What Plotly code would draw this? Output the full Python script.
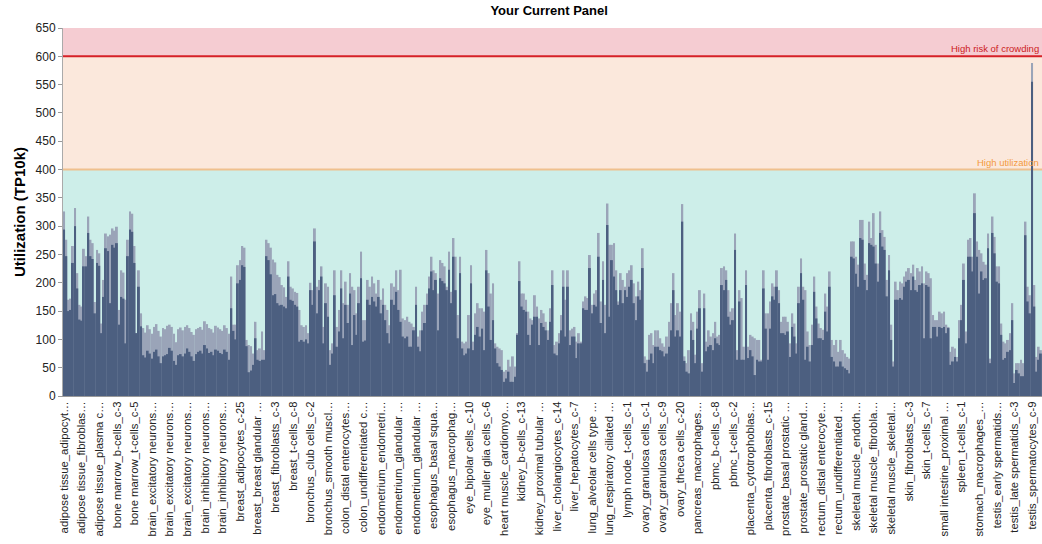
import plotly.graph_objects as go

# utilization per cluster (TP10k)
total_a = [326,276,170,172,265,332,217,161, 158,260,247,317,276,270,166,258,
           252,128,205,287,282,285,296,292, 299,152,222,218,170,276,326,322,
           265,111,222,146,
           120,112,125,118,110,122,127,115,105,120,118,124,126,122,110,95,118,121,116,122,
           125,120,113,108,118,120,122,117,132,127,120,118,112,124,121,118,115,125,120,110,
           211,126,126,231,240,265,262,99,90,88,75,131,81,84,114,81,276,270,262,241,
           236,214,210,196,192,175,238,193,190,184,182,152,125,122]
base_a = [294,247,150,152,235,300,190,135, 133,229,229,288,247,242,146,235,
          230,111,175,261,256,164,267,262, 270,126,175,172,93,247,294,290,
          235,111,193,123,
          72,68,80,75,66,78,82,70,58,70,72,74,85,80,62,55,72,74,70,75,
          84,78,70,62,74,78,80,75,90,84,76,78,72,82,80,76,74,82,78,64,
          155,115,100,199,205,231,228,88,42,45,55,102,64,62,64,64,247,240,215,178,
          180,164,160,161,158,155,211,170,168,161,158,96,99,96]

total_b = [125,111,200,187,296,193,205,229,122,199, 193,81,93,222,122,152,222,164,202,161,
           217,193,187,146,193,255,134,134,205,193, 211,199,181,205,170,190,161,152,125,199,
           193,222,187,223,137,134,140,131,128,122, 193,105,116,149,161,181,211,246,222,217,
           181,240,235,229,193,255,184,279,246,143, 246,96,93,96,143,231,96,146,164,155,
           155,149,258,217,181,199,93,87,84,81, 43,46,64,52,70,52,111,238,181,181,
           170,149,137,134,178,158,137,152,146]
base_b = [100,93,187,161,273,146,187,211,93,164, 140,55,75,178,87,114,190,102,161,129,
          181,90,143,108,164,208,96,98,170,161, 175,167,158,175,146,161,134,111,93,170,
          161,184,152,131,105,102,105,87,87,116, 161,87,79,116,129,161,190,220,187,205,
          116,208,203,199,187,223,164,246,187,102, 217,84,72,75,84,199,81,108,122,105,
          119,81,222,158,99,134,84,58,52,46, 25,31,43,25,25,34,108,203,158,152,
          149,108,90,126,140,140,90,129,122]

total_c = [131,116,155,222,90,96,111,143,222,170, 222,116,119,122,96,111,96,167,176,173,
           249,161,181,187,288,167,238,161,340,267, 267,270,222,167,217,205,193,217,222,231,
           199,176,202,187,261,70,64,108,111,90, 116,116,102,93,87,105,131,164,217,143,
           164,149,339,70,58,81,146,131,73,149, 187,58,181,96,116,105,111,131,105,108,
           226,229,222,187,149,155,287,81,187,173, 87,222,87,108,105,102,99,99,64,222,
           146,146,167,199,193,222,187,131,140]
base_c = [116,99,131,196,75,72,93,116,193,105, 193,90,105,105,67,93,93,155,152,152,
          226,146,161,158,246,129,205,111,302,140, 240,211,187,161,187,164,187,175,193,205,
          164,134,176,170,226,58,43,64,75,58, 87,87,81,79,70,75,87,116,187,105,
          116,105,308,62,43,40,116,99,58,119, 155,43,155,79,87,90,81,102,93,90,
          196,187,205,140,126,134,258,64,167,64, 64,196,67,81,70,37,64,61,61,190,
          119,64,119,176,170,193,164,111,111]

total_d = [140,131,93,146,128,93,193,243,193,187, 114,90,126,211,158,128,120,117,181,158,
           220,99,90,99,78,99,81,75,69,66, 273,273,246,232,311,311,234,214,308,279,
           323,267,234,326,293,281,205,249,126,61, 202,187,202,199,211,220,226,217,232,205,
           226,220,229,199,220,217,208,143,134,134, 149,146,149,126,122,78,87,84,69,134,
           161,234,114,276,279,246,358,273,258,252, 237,232,287,66,317,281,229,229,128,96,
           93,99,111,164,40,58,58,64,58,308, 193,178,588,196,69,87,81]
base_d = [108,114,69,122,105,75,164,217,170,64, 87,61,90,184,137,102,102,99,149,114,
          193,69,61,52,52,61,52,49,46,40, 246,243,216,193,279,276,205,187,270,267,
          264,234,202,288,264,258,176,222,99,52, 170,170,173,170,193,202,205,187,211,187,
          184,196,199,102,196,193,102,122,122,105, 122,120,122,111,120,55,61,69,61,102,
          134,205,93,246,246,220,323,246,181,220, 205,208,261,58,288,252,202,199,108,64,
          67,78,81,134,23,46,40,35,35,284, 167,146,555,158,43,64,75]

total = total_a + total_b + total_c + total_d
base = base_a + base_b + base_c + base_d

# one label shown for every 8th cluster
labels = [
    "adipose tissue_adipocyt…", "adipose tissue_fibroblas…", "adipose tissue_plasma c…",
    "bone marrow_b-cells_c-3", "bone marrow_t-cells_c-5",
    "brain_excitatory neurons…", "brain_excitatory neurons…", "brain_excitatory neurons…",
    "brain_inhibitory neurons…", "brain_inhibitory neurons…",
    "breast_adipocytes_c-25", "breast_breast glandular …", "breast_fibroblasts_c-3",
    "breast_t-cells_c-8", "bronchus_club cells_c-2", "bronchus_smooth muscl…",
    "colon_distal enterocytes…", "colon_undifferentiated c…", "endometrium_endometri…",
    "endometrium_glandular …", "endometrium_glandular …", "esophagus_basal squa…",
    "esophagus_macrophag…", "eye_bipolar cells_c-10", "eye_muller glia cells_c-6",
    "heart muscle_cardiomyo…", "kidney_b-cells_c-13", "kidney_proximal tubular …",
    "liver_cholangiocytes_c-14", "liver_hepatocytes_c-7", "lung_alveolar cells type …",
    "lung_respiratory ciliated …", "lymph node_t-cells_c-1", "ovary_granulosa cells_c-1",
    "ovary_granulosa cells_c-9", "ovary_theca cells_c-20", "pancreas_macrophages…",
    "pbmc_b-cells_c-8", "pbmc_t-cells_c-2", "placenta_cytotrophoblas…",
    "placenta_fibroblasts_c-15", "prostate_basal prostatic …", "prostate_prostatic gland…",
    "rectum_distal enterocyte…", "rectum_undifferentiated …", "skeletal muscle_endoth…",
    "skeletal muscle_fibrobla…", "skeletal muscle_skeletal…", "skin_fibroblasts_c-3",
    "skin_t-cells_c-7", "small intestine_proximal …", "spleen_t-cells_c-1",
    "stomach_macrophages_…", "testis_early spermatids…", "testis_late spermatids_c-3",
    "testis_spermatocytes_c-9",
]
label_step = 8

thresholds = [400, 600]
threshold_names = ["High utilization", "High risk of crowding"]

FONT = "Liberation Sans, Arial, sans-serif"
x = list(range(len(total)))

fig = go.Figure()
fig.add_trace(go.Bar(x=x, y=total, marker_color="#9aa4b8", marker_line_width=0,
                     showlegend=False, hoverinfo="y"))
fig.add_trace(go.Bar(x=x, y=base, marker_color="#4c5f80", marker_line_width=0,
                     showlegend=False, hoverinfo="y"))

# background bands
bands = [(0, 400, "#cdeee9"), (400, 600, "#fbe8dc"), (600, 650, "#f5ccd2")]
for y0, y1, col in bands:
    fig.add_shape(type="rect", xref="paper", yref="y", x0=0, x1=1, y0=y0, y1=y1,
                  fillcolor=col, line_width=0, layer="below")

fig.add_shape(type="line", xref="paper", yref="y", x0=0, x1=1, y0=thresholds[0], y1=thresholds[0],
              line=dict(color="#efc08e", width=2), layer="below")
fig.add_shape(type="line", xref="paper", yref="y", x0=0, x1=1, y0=thresholds[1], y1=thresholds[1],
              line=dict(color="#d62027", width=2))

fig.add_annotation(x=0.999, xref="paper", y=thresholds[0], yref="y", text=threshold_names[0],
                   showarrow=False, xanchor="right", yanchor="bottom",
                   font=dict(family=FONT, size=9.5, color="#f39a3c"))
fig.add_annotation(x=0.999, xref="paper", y=thresholds[1], yref="y", text=threshold_names[1],
                   showarrow=False, xanchor="right", yanchor="bottom",
                   font=dict(family=FONT, size=9.5, color="#cc1b22"))

fig.update_layout(
    width=1042, height=544,
    margin=dict(l=63, r=0, t=28, b=148, autoexpand=False),
    barmode="overlay", bargap=0.15,
    plot_bgcolor="white", paper_bgcolor="white",
    title=dict(text="<b>Your Current Panel</b>", x=0.527, xanchor="center", y=0.99, yanchor="top",
               font=dict(family=FONT, size=13, color="#000")),
    font=dict(family=FONT, color="#222"),
)
fig.update_xaxes(
    range=[-0.5, len(total) - 0.5],
    tickmode="array",
    tickvals=[i * label_step for i in range(len(labels))],
    ticktext=labels,
    tickangle=-90,
    tickfont=dict(family=FONT, size=11.3, color="#222"),
    ticks="",
    showline=True, linecolor="#999", linewidth=1,
    showgrid=False, zeroline=False,
)
fig.update_yaxes(
    range=[0, 650], dtick=50,
    tickfont=dict(family=FONT, size=12, color="#222"),
    ticks="outside", ticklen=4, tickcolor="#999",
    showline=True, linecolor="#aaa", linewidth=1,
    showgrid=False, zeroline=False,
    title=dict(text="<b>Utilization (TP10k)</b>", font=dict(family=FONT, size=15, color="#000"),
               standoff=6),
)

# drop the page's default body margin so the figure sits at the window origin
fig.write_html("out.html", config={"displayModeBar": False},
               post_script="document.body.style.margin='0';")
